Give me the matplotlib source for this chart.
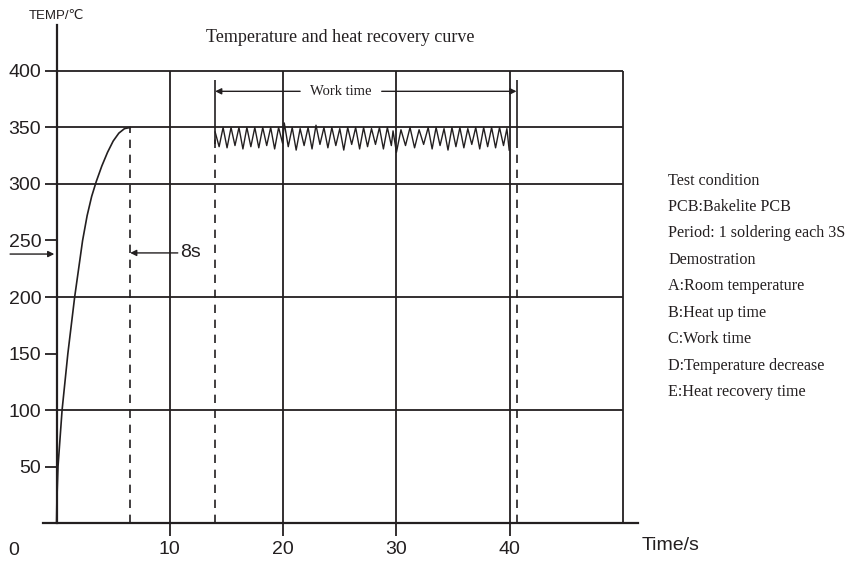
import matplotlib
matplotlib.use("Agg")
import matplotlib.pyplot as plt

# Datos
# Curva de calentamiento (tiempo en s, temperatura en °C)
calent_t = [0.0, 0.03, 0.13, 0.49, 1.0, 1.6, 2.3, 2.7, 3.1, 3.5, 4.0, 4.5, 5.0, 5.5, 6.0, 6.5]
calent_T = [0, 20, 50, 100, 150, 200, 250, 272, 289, 302, 316, 328, 338, 345, 349, 350]

# Zigzag de trabajo (picos y valles alternados)
zz_t = [14.0, 14.35, 14.7, 15.05, 15.4, 15.75, 16.1, 16.45, 16.8, 17.15,
        17.5, 17.85, 18.2, 18.55, 18.9, 19.25, 19.6, 19.95, 20.1, 20.45,
        20.8, 21.15, 21.5, 21.85, 22.2, 22.55, 22.9, 23.25, 23.6, 23.95,
        24.3, 24.65, 25.0, 25.35, 25.7, 26.05, 26.4, 26.75, 27.1, 27.45,
        27.8, 28.15, 28.5, 28.85, 29.2, 29.55, 29.7, 30.0, 30.4, 30.8,
        31.2, 31.6, 32.0, 32.4, 32.8, 33.15, 33.5, 33.85, 34.2, 34.55,
        34.9, 35.25, 35.6, 35.95, 36.3, 36.65, 37.0, 37.35, 37.7, 38.05,
        38.4, 38.75, 39.1, 39.45, 39.75, 39.95]
zz_T = [346, 333, 350, 332, 350, 334, 350, 331, 350, 333,
        350, 332, 350, 334, 350, 331, 350, 336, 354, 333,
        350, 330, 349, 334, 350, 331, 352, 335, 350, 332,
        350, 334, 349, 330, 350, 335, 350, 331, 350, 333,
        349, 335, 350, 331, 350, 334, 347, 328, 348, 334,
        350, 332, 348, 335, 350, 331, 350, 334, 349, 330,
        350, 333, 350, 332, 349, 335, 350, 331, 350, 333,
        350, 332, 350, 334, 349, 330]

# Rejilla y ejes
rejilla_T = [100, 200, 300, 350, 400]
rejilla_t = [10, 20, 30, 40, 50]
ticks_T = [50, 100, 150, 200, 250, 300, 350, 400]
ticks_t = [10, 20, 30, 40]

# Marcas verticales (fin calentamiento, inicio y fin del trabajo)
T_FIN_CALENT = 6.5
T_INICIO_TRABAJO = 14.0
T_FIN_TRABAJO = 40.6

TITULO = "Temperature and heat recovery curve"
NOTAS = ["Test condition", "PCB:Bakelite PCB", "Period: 1 soldering each 3S",
         "Demostration", "A:Room temperature", "B:Heat up time", "C:Work time",
         "D:Temperature decrease", "E:Heat recovery time"]

COLOR = "#231f20"
SANS = ["Liberation Sans", "DejaVu Sans"]
SERIF = ["Liberation Serif", "DejaVu Serif"]

fig = plt.figure(figsize=(8.51, 5.61), dpi=100)
ax = fig.add_axes([0, 0, 1, 1])
ax.set_xlim(-4.99, 70.12)
ax.set_ylim(-33.6, 462.8)

# Ejes en el origen
for lado in ["top", "right"]:
    ax.spines[lado].set_visible(False)
ax.spines["left"].set_position(("data", 0))
ax.spines["left"].set_bounds(0, 441)
ax.spines["bottom"].set_position(("data", 0))
ax.spines["bottom"].set_bounds(-1.2, 51.3)
for lado in ["left", "bottom"]:
    ax.spines[lado].set_linewidth(1.6)
    ax.spines[lado].set_color(COLOR)

ax.set_yticks(ticks_T)
ax.set_yticklabels([str(v) for v in ticks_T], family=SANS, fontsize=14)
ax.set_xticks(ticks_t)
ax.set_xticklabels([str(v) for v in ticks_t], family=SANS, fontsize=14)
ax.tick_params(axis="both", direction="out", length=9, width=1.3, color=COLOR,
               labelcolor=COLOR)
ax.tick_params(axis="y", pad=2)
ax.tick_params(axis="x", pad=4)
ax.text(-3.75, -17, "0", family=SANS, fontsize=14, color=COLOR, ha="center", va="top")

# Rejilla
ax.hlines(rejilla_T, 0, 50, color=COLOR, lw=1.3)
ax.vlines(rejilla_t, 0, 400, color=COLOR, lw=1.3)

# Curvas
ax.plot(calent_t, calent_T, color=COLOR, lw=1.2)
ax.plot(zz_t, zz_T, color=COLOR, lw=1.0)

# Líneas discontinuas
ax.vlines([T_FIN_CALENT], 0, 350, color=COLOR, lw=1.2, linestyles=(0, (5, 4)))
ax.vlines([T_INICIO_TRABAJO], 0, 340, color=COLOR, lw=1.2, linestyles=(0, (5, 4)))
ax.vlines([T_FIN_TRABAJO], 0, 335, color=COLOR, lw=1.2, linestyles=(0, (5, 4)))
ax.vlines([T_INICIO_TRABAJO, T_FIN_TRABAJO], 335, 392, color=COLOR, lw=1.2)

# Flechas
flecha = dict(arrowstyle="-|>", color=COLOR, lw=1.0, mutation_scale=9,
              shrinkA=0, shrinkB=0)
ax.annotate("", xy=(T_INICIO_TRABAJO, 382), xytext=(21.5, 382), arrowprops=flecha)
ax.annotate("", xy=(T_FIN_TRABAJO, 382), xytext=(28.7, 382), arrowprops=flecha)
ax.text(25.1, 382, "Work time", family=SERIF, fontsize=10.5, color=COLOR,
        ha="center", va="center")
ax.annotate("", xy=(T_FIN_CALENT, 239), xytext=(10.7, 239), arrowprops=flecha)
ax.text(10.9, 239, "8s", family=SANS, fontsize=14, color=COLOR, ha="left", va="center")
ax.annotate("", xy=(-0.2, 238), xytext=(-4.1, 238), arrowprops=flecha)

# Textos
ax.text(0, 449, "TEMP/℃", family=SANS, fontsize=9.5, color=COLOR, ha="center", va="center")
ax.text(25, 430, TITULO, family=SERIF, fontsize=13, color=COLOR, ha="center", va="center")
ax.text(54.2, -12, "Time/s", family=SANS, fontsize=14, color=COLOR, ha="center", va="top")
for i, nota in enumerate(NOTAS):
    ax.text(54, 303 - i * 23.4, nota, family=SERIF, fontsize=11.6, color=COLOR,
            ha="left", va="center")

fig.savefig("out.png", dpi=100)
